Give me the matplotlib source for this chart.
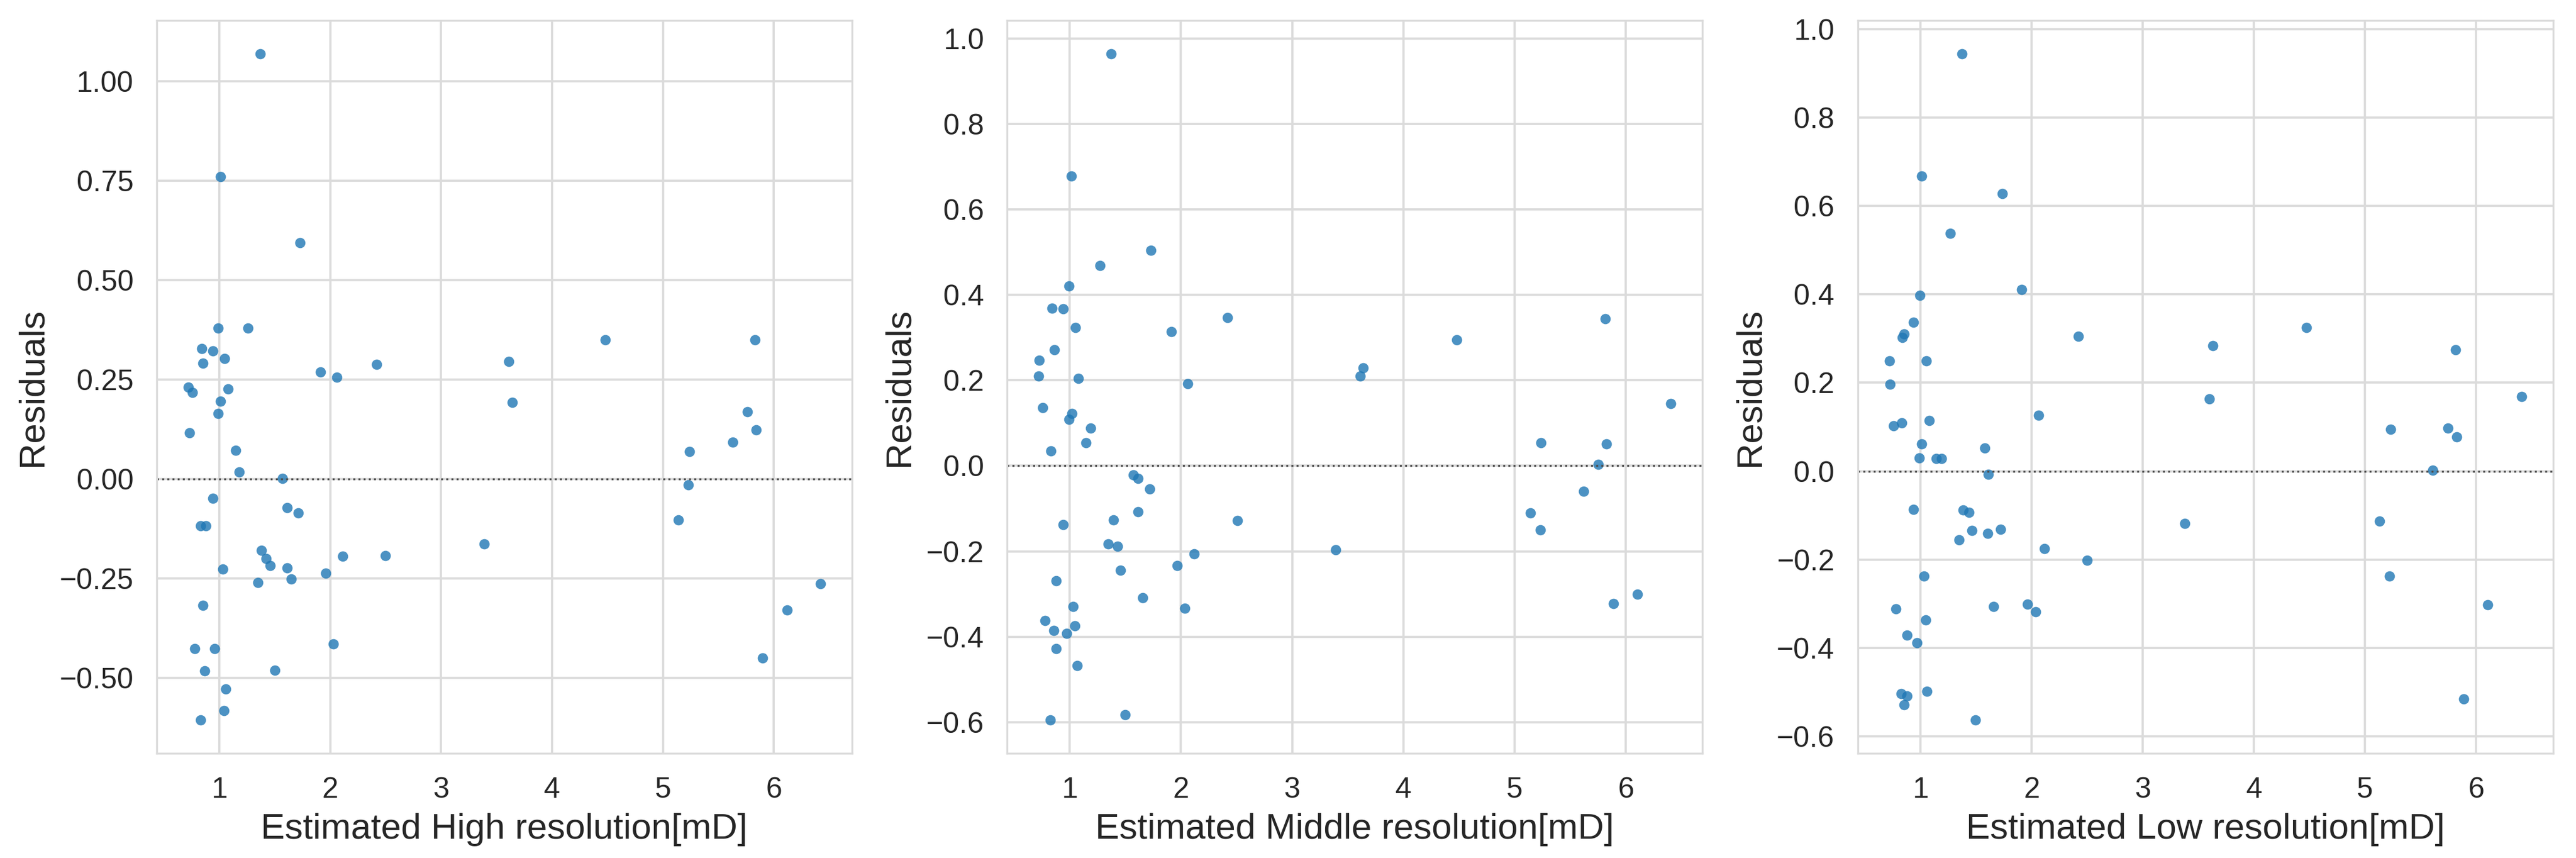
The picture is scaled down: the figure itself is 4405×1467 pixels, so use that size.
import matplotlib
matplotlib.use('Agg')
import matplotlib.pyplot as plt
import seaborn as sns

# estimated permeability (x) and residuals (y) for each resolution
x_high = [1.37, 1.01, 1.73, 0.99, 1.26, 0.84, 0.94, 1.05, 0.85, 1.91, 2.06, 2.42, 0.72, 0.76, 1.08,
          1.01, 0.99, 0.73, 1.15, 1.18, 1.57, 0.94, 1.61, 1.71, 0.83, 0.88, 1.38, 1.42, 1.46, 1.03,
          1.61, 2.11, 2.50, 1.96, 1.65, 1.35, 0.85, 0.78, 0.96, 2.03, 0.87, 1.50, 1.06, 1.04, 0.83,
          3.61, 3.64, 4.48, 5.83, 5.76, 5.84, 5.63, 5.24, 5.23, 5.14, 3.39, 6.42, 6.12, 5.90]
res_high = [1.069, 0.760, 0.594, 0.380, 0.380, 0.328, 0.322, 0.303, 0.291, 0.269, 0.256, 0.289, 0.231,
            0.218, 0.226, 0.196, 0.165, 0.116, 0.072, 0.018, 0.001, -0.048, -0.072, -0.085, -0.118,
            -0.118, -0.179, -0.200, -0.218, -0.227, -0.223, -0.194, -0.193, -0.237, -0.251, -0.260,
            -0.317, -0.426, -0.426, -0.415, -0.482, -0.481, -0.528, -0.583, -0.606, 0.295, 0.193,
            0.350, 0.350, 0.169, 0.123, 0.092, 0.069, -0.015, -0.103, -0.163, -0.263, -0.329, -0.450]

x_mid = [1.375, 1.015, 1.733, 1.272, 0.997, 0.844, 0.942, 1.053, 1.917, 2.421, 0.861, 0.728, 0.723,
         1.081, 2.063, 0.758, 1.020, 0.995, 1.191, 1.149, 0.831, 1.574, 1.617, 1.720, 1.617, 1.393,
         2.506, 0.940, 1.348, 1.431, 2.121, 1.965, 1.458, 0.879, 1.657, 1.030, 2.038, 0.781, 1.050,
         0.856, 0.972, 0.877, 1.068, 1.499, 0.829, 3.641, 3.611, 4.477, 5.817, 6.405, 5.234, 5.827,
         5.749, 5.621, 5.141, 5.229, 3.392, 6.103, 5.889]
res_mid = [0.964, 0.678, 0.504, 0.469, 0.421, 0.369, 0.368, 0.323, 0.314, 0.347, 0.272, 0.247, 0.210,
           0.204, 0.192, 0.136, 0.123, 0.109, 0.088, 0.054, 0.035, -0.022, -0.029, -0.054, -0.108,
           -0.127, -0.128, -0.138, -0.183, -0.188, -0.206, -0.233, -0.244, -0.269, -0.309, -0.329,
           -0.333, -0.362, -0.374, -0.386, -0.392, -0.428, -0.468, -0.582, -0.595, 0.229, 0.210,
           0.295, 0.344, 0.145, 0.054, 0.051, 0.003, -0.060, -0.110, -0.150, -0.197, -0.300, -0.322]

x_low = [1.370, 1.010, 1.733, 1.267, 1.907, 0.992, 0.937, 0.854, 0.834, 2.421, 0.718, 1.050, 0.725,
         0.756, 0.829, 1.078, 2.060, 1.010, 0.990, 1.141, 1.186, 1.577, 1.610, 0.935, 1.383, 1.433,
         1.461, 1.605, 1.718, 1.345, 2.116, 2.501, 1.028, 0.776, 1.655, 1.960, 2.033, 1.045, 0.877,
         0.967, 1.055, 0.824, 0.877, 0.849, 1.494, 3.629, 3.596, 4.470, 5.816, 6.407, 5.230, 5.747,
         5.826, 5.611, 5.131, 3.376, 5.220, 6.104, 5.889]
res_low = [0.944, 0.668, 0.628, 0.538, 0.411, 0.398, 0.337, 0.311, 0.302, 0.305, 0.249, 0.249, 0.197,
           0.103, 0.109, 0.114, 0.126, 0.062, 0.030, 0.029, 0.029, 0.053, -0.007, -0.086, -0.088,
           -0.093, -0.134, -0.141, -0.131, -0.155, -0.175, -0.202, -0.237, -0.311, -0.306, -0.301,
           -0.318, -0.336, -0.371, -0.388, -0.498, -0.503, -0.508, -0.529, -0.563, 0.284, 0.164,
           0.325, 0.275, 0.169, 0.095, 0.098, 0.077, 0.002, -0.113, -0.118, -0.237, -0.302, -0.515]

labels = ['Estimated High resolution[mD]', 'Estimated Middle resolution[mD]',
          'Estimated Low resolution[mD]']

sns.set_style('whitegrid')
plt.rcParams['font.family'] = ['Liberation Sans', 'DejaVu Sans']

fig, axes = plt.subplots(1, 3, figsize=(4405 / 300, 1467 / 300), dpi=300)
fig.subplots_adjust(left=0.0608, right=0.9911, bottom=0.122, top=0.976, wspace=0.223)

for ax, x, y, label in zip(axes, [x_high, x_mid, x_low], [res_high, res_mid, res_low], labels):
    ax.scatter(x, y, s=18, color='#1f77b4', alpha=0.8, linewidths=0)
    ax.axhline(0, ls=':', c='.3', lw=0.8)
    ax.set_xlabel(label, fontsize=14.8, color='.15')
    ax.set_ylabel('Residuals', fontsize=14.8, color='.15')
    ax.tick_params(labelsize=12, pad=6, colors='.15')
    ax.grid(color='.86', lw=0.9)
    for sp in ax.spines.values():
        sp.set_color('.86')

fig.savefig('out.png', dpi=300)
